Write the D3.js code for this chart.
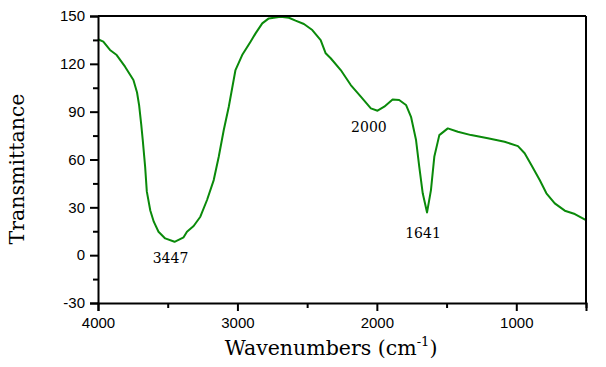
<!DOCTYPE html>
<html><head><meta charset="utf-8">
<script src="https://cdn.jsdelivr.net/npm/d3@7"></script>
<style>body{margin:0;background:#fff}svg{display:block}</style>
</head><body>
<script>
const wavenumbers = [4000,3962,3914,3866,3806,3746,3720,3705,3690,3679,3662,3650,3625,3600,3566,3518,3451,3386,3362,3314,3266,3218,3170,3134,3098,3062,3014,2966,2906,2870,2822,2775,2691,2631,2583,2523,2463,2403,2367,2331,2259,2187,2115,2043,1995,1947,1887,1840,1791,1755,1719,1696,1671,1640,1612,1588,1552,1491,1419,1324,1204,1084,988,940,892,832,784,724,652,580,500];
const transmittance = [135.4,133.9,128.7,125.5,118.2,109.9,102,94,82,72.2,55.5,40,28,21,14.7,10.5,8.4,11.2,14.7,18.3,24.1,34.6,47.1,61.7,78.5,93.1,116.1,125.5,133.9,139.1,145.4,148.5,149.6,148.9,147.1,145,141.2,134.9,126.6,123.5,116.1,106.7,99.4,92.1,90.6,93.1,97.7,97.3,94.2,86.8,72.2,55.5,38.8,26.8,40.8,61.7,75.3,79.5,77.4,75.3,73.3,71.1,68.4,63.9,56.5,47.1,38.8,32.5,27.9,25.8,22];
const xTicks = [4000,3000,2000,1000];
const xMinor = [3500,2500,1500,500];
const yTicks = [-30,0,30,60,90,120,150];
const yMinor = [-15,15,45,75,105,135];
const peakLabels = ["3447","2000","1641"];
const peakPos = [[3480,-5],[2057,77],[1669,11]];

const W=606,H=367, L=98, T=16, R=586, B=303;
const svg=d3.select("body").append("svg").attr("width",W).attr("height",H);
const x=d3.scaleLinear().domain([4000,500]).range([L,R]);
const y=d3.scaleLinear().domain([-30,150]).range([B,T]);

const data=wavenumbers.map((w,i)=>[w,transmittance[i]]);
svg.append("path").datum(data)
  .attr("fill","none").attr("stroke","#0a8a0a").attr("stroke-width",2)
  .attr("stroke-linejoin","round")
  .attr("d",d3.line().x(d=>x(d[0])).y(d=>y(d[1])));

svg.append("line").attr("x1",L).attr("x2",R).attr("y1",T).attr("y2",T).attr("stroke","#000").attr("stroke-width",2);
svg.append("line").attr("x1",R).attr("x2",R).attr("y1",T).attr("y2",B).attr("stroke","#000").attr("stroke-width",2);

const fontSans="'Liberation Sans', Arial, sans-serif";
const fmt=d=>String(d);
const gx=svg.append("g").attr("transform",`translate(0,${B})`)
  .call(d3.axisBottom(x).tickValues(xTicks).tickSize(8).tickPadding(6).tickFormat(fmt));
const gxm=svg.append("g").attr("transform",`translate(0,${B})`)
  .call(d3.axisBottom(x).tickValues(xMinor).tickSize(5).tickFormat(""));
const gy=svg.append("g").attr("transform",`translate(${L},0)`)
  .call(d3.axisLeft(y).tickValues(yTicks).tickSize(8).tickPadding(5).tickFormat(fmt));
const gym=svg.append("g").attr("transform",`translate(${L},0)`)
  .call(d3.axisLeft(y).tickValues(yMinor).tickSize(5).tickFormat(""));
[gx,gxm,gy,gym].forEach(g=>{
  g.selectAll(".domain").attr("stroke","#000").attr("stroke-width",2);
  g.selectAll(".tick line").attr("stroke","#000").attr("stroke-width",2);
  g.selectAll("text").attr("fill","#000").style("font-family",fontSans).style("font-size","15px");
});
gxm.select(".domain").remove(); gym.select(".domain").remove();

const serif="'DejaVu Serif', serif";
svg.append("text").attr("x",331).attr("y",355).attr("text-anchor","middle")
  .style("font-family",serif).style("font-size","20.5px").attr("fill","#000")
  .call(t=>{t.append("tspan").text("Wavenumbers (cm");
    t.append("tspan").attr("dy",-9).style("font-size","13px").text("-1");
    t.append("tspan").attr("dy",9).text(")");});
svg.append("text").attr("transform","translate(24,169) rotate(-90)").attr("text-anchor","middle")
  .style("font-family",serif).style("font-size","20.5px").attr("fill","#000").text("Transmittance");

peakLabels.forEach((lab,i)=>{
  svg.append("text").attr("x",x(peakPos[i][0])).attr("y",y(peakPos[i][1]))
    .attr("text-anchor","middle").style("font-family",serif).style("font-size","14px").attr("fill","#000").text(lab);
});
</script>
</body></html>
